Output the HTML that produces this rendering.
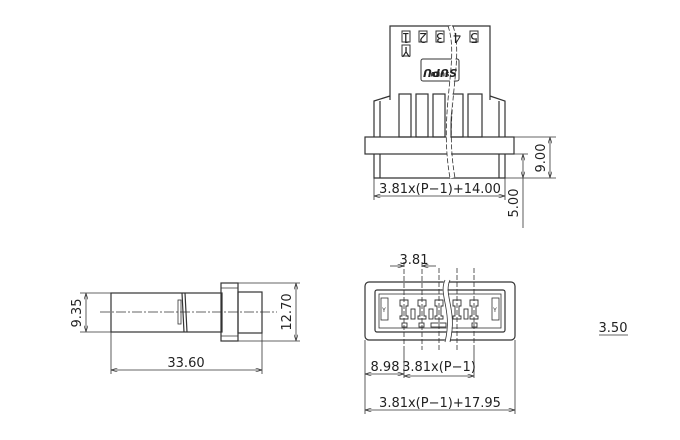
<!DOCTYPE html>
<html><head><meta charset="utf-8"><style>
html,body{margin:0;padding:0;background:#fff;}
svg{display:block;}
text{font-family:"DejaVu Sans","Liberation Sans",sans-serif;font-size:13px;fill:#222;}
</style></head><body>
<svg width="680" height="440" viewBox="0 0 680 440" xmlns="http://www.w3.org/2000/svg">
<defs>
<marker id="a" viewBox="0 0 10 6" refX="10" refY="3" markerWidth="8" markerHeight="5" orient="auto-start-reverse"><path d="M0,0 L10,3 L0,6" fill="none" stroke="#333" stroke-width="1"/></marker>
</defs>
<g fill="none" stroke="#333" stroke-width="1.2">
<!-- TOP VIEW -->
<path d="M390,100 L390,26 L490,26 L490,100"/>
<path d="M374,137 L374,101 L390,96 M505,137 L505,101 L490,96"/>
<line x1="380" y1="101" x2="380" y2="137"/>
<line x1="499" y1="101" x2="499" y2="137"/>
<rect x="399" y="94" width="12" height="43"/>
<rect x="416" y="94" width="12" height="43"/>
<rect x="433" y="94" width="12" height="43"/>
<rect x="451" y="94" width="12" height="43"/>
<rect x="468" y="94" width="14" height="43"/>
<rect x="365" y="137" width="149" height="17"/>
<path d="M374,154 L374,178 L505,178 L505,154"/>
<line x1="380" y1="154" x2="380" y2="178"/>
<line x1="499" y1="154" x2="499" y2="178"/>
<rect x="402" y="31" width="8" height="11" stroke-width="1"/>
<rect x="419" y="31" width="8" height="11" stroke-width="1"/>
<rect x="436" y="31" width="8" height="11" stroke-width="1"/>
<rect x="470" y="31" width="8" height="11" stroke-width="1"/>
<rect x="402" y="45" width="8" height="11" stroke-width="1"/>
<rect x="421" y="59" width="38" height="22" rx="2" stroke-width="1"/>
<path d="M450,26 C462,60 440,110 452,178" stroke="#fff" stroke-width="4"/>
<path d="M448,26 C460,60 438,110 450,178 M453,26 C465,60 443,110 455,178" stroke-width="0.8" stroke-dasharray="5,2"/>
<!-- dims top -->
<line x1="514" y1="137" x2="556" y2="137" stroke-width="0.8"/>
<line x1="505" y1="178" x2="556" y2="178" stroke-width="0.8"/>
<line x1="505" y1="154" x2="528" y2="154" stroke-width="0.8"/>
<line x1="550" y1="137" x2="550" y2="178" stroke-width="0.8" marker-start="url(#a)" marker-end="url(#a)"/>
<line x1="523" y1="154" x2="523" y2="178" stroke-width="0.8" marker-start="url(#a)" marker-end="url(#a)"/>
<line x1="523" y1="178" x2="523" y2="228" stroke-width="0.8"/>
<line x1="374" y1="178" x2="374" y2="200" stroke-width="0.8"/>
<line x1="505" y1="178" x2="505" y2="200" stroke-width="0.8"/>
<line x1="374" y1="196" x2="505" y2="196" stroke-width="0.8" marker-start="url(#a)" marker-end="url(#a)"/>

<!-- SIDE VIEW -->
<rect x="111" y="293" width="111" height="39"/>
<path d="M182,293 L184,332 M185,293 L187,332"/>
<rect x="178" y="300" width="3" height="24" stroke-width="0.8"/>
<rect x="221" y="283" width="17" height="58"/>
<line x1="221" y1="288" x2="238" y2="288" stroke-width="0.8"/>
<line x1="221" y1="336" x2="238" y2="336" stroke-width="0.8"/>
<rect x="238" y="292" width="24" height="41"/>
<line x1="100" y1="312" x2="277" y2="312" stroke-width="0.7" stroke-dasharray="10,2,2,2"/>
<line x1="80" y1="293" x2="111" y2="293" stroke-width="0.8"/>
<line x1="80" y1="332" x2="111" y2="332" stroke-width="0.8"/>
<line x1="86" y1="293" x2="86" y2="332" stroke-width="0.8" marker-start="url(#a)" marker-end="url(#a)"/>
<line x1="238" y1="283" x2="300" y2="283" stroke-width="0.8"/>
<line x1="238" y1="341" x2="300" y2="341" stroke-width="0.8"/>
<line x1="296" y1="283" x2="296" y2="341" stroke-width="0.8" marker-start="url(#a)" marker-end="url(#a)"/>
<line x1="111" y1="332" x2="111" y2="374" stroke-width="0.8"/>
<line x1="262" y1="333" x2="262" y2="374" stroke-width="0.8"/>
<line x1="111" y1="370" x2="262" y2="370" stroke-width="0.8" marker-start="url(#a)" marker-end="url(#a)"/>

<!-- FRONT VIEW -->
<rect x="365" y="282" width="150" height="58" rx="4"/>
<rect x="375" y="290" width="130" height="42" rx="2"/>
<rect x="379" y="294" width="122" height="34" stroke-width="0.8"/>
<rect x="381" y="298" width="7" height="22" stroke-width="0.8"/>
<rect x="492" y="298" width="7" height="22" stroke-width="0.8"/>
<g stroke-width="0.9">
<path d="M400,300 h8 v6 h-2 v10 h2 v3 h-8 v-3 h2 v-10 h-2z"/>
<path d="M418,300 h8 v6 h-2 v10 h2 v3 h-8 v-3 h2 v-10 h-2z"/>
<path d="M435,300 h8 v6 h-2 v10 h2 v3 h-8 v-3 h2 v-10 h-2z"/>
<path d="M453,300 h8 v6 h-2 v10 h2 v3 h-8 v-3 h2 v-10 h-2z"/>
<path d="M470,300 h8 v6 h-2 v10 h2 v3 h-8 v-3 h2 v-10 h-2z"/>
<rect x="411" y="309" width="4" height="10"/>
<rect x="429" y="309" width="4" height="10"/>
<rect x="464" y="309" width="4" height="10"/>
<rect x="402" y="323" width="5" height="4"/>
<rect x="419" y="323" width="5" height="4"/>
<rect x="431" y="323" width="15" height="4"/>
<rect x="472" y="323" width="5" height="4"/>
</g>
<path d="M447,280 C440,295 455,310 447,342" stroke="#fff" stroke-width="5"/>
<path d="M445,280 C438,295 453,310 445,342 M450,280 C443,295 458,310 450,342" stroke-width="0.8"/>
<g stroke-width="0.8" stroke-dasharray="5,2">
<line x1="404" y1="262" x2="404" y2="350"/>
<line x1="422" y1="262" x2="422" y2="350"/>
<line x1="439" y1="268" x2="439" y2="350"/>
<line x1="457" y1="268" x2="457" y2="350"/>
<line x1="474" y1="268" x2="474" y2="350"/>
</g>
<line x1="390" y1="266" x2="404" y2="266" stroke-width="0.8" marker-end="url(#a)"/>
<line x1="436" y1="266" x2="422" y2="266" stroke-width="0.8" marker-end="url(#a)"/>
<line x1="365" y1="340" x2="365" y2="414" stroke-width="0.8"/>
<line x1="515" y1="340" x2="515" y2="414" stroke-width="0.8"/>
<line x1="404" y1="350" x2="404" y2="378" stroke-width="0.8"/>
<line x1="474" y1="350" x2="474" y2="378" stroke-width="0.8"/>
<line x1="365" y1="374" x2="404" y2="374" stroke-width="0.8" marker-start="url(#a)" marker-end="url(#a)"/>
<line x1="404" y1="376" x2="474" y2="376" stroke-width="0.8" marker-start="url(#a)" marker-end="url(#a)"/>
<line x1="365" y1="410" x2="515" y2="410" stroke-width="0.8" marker-start="url(#a)" marker-end="url(#a)"/>
<line x1="599" y1="335" x2="628" y2="335" stroke-width="0.8"/>
</g>
<g>
<text x="440" y="193" text-anchor="middle">3.81x(P−1)+14.00</text>
<text transform="translate(545,158) rotate(-90)" text-anchor="middle">9.00</text>
<text transform="translate(518,203) rotate(-90)" text-anchor="middle">5.00</text>
<text transform="translate(81,313) rotate(-90)" text-anchor="middle">9.35</text>
<text transform="translate(291,312) rotate(-90)" text-anchor="middle">12.70</text>
<text x="186" y="367" text-anchor="middle">33.60</text>
<text x="414" y="264" text-anchor="middle">3.81</text>
<text x="385" y="371" text-anchor="middle">8.98</text>
<text x="439" y="371" text-anchor="middle">3.81x(P−1)</text>
<text x="440" y="407" text-anchor="middle">3.81x(P−1)+17.95</text>
<text x="613" y="332" text-anchor="middle">3.50</text>
<g style="font-size:8px">
<text x="406" y="40" text-anchor="middle" transform="rotate(180 406 36.5)">1</text>
<text x="423" y="40" text-anchor="middle" transform="rotate(180 423 36.5)">2</text>
<text x="440" y="40" text-anchor="middle" transform="rotate(180 440 36.5)">3</text>
<text x="457" y="40" text-anchor="middle" transform="rotate(180 457 36.5)">4</text>
<text x="474" y="40" text-anchor="middle" transform="rotate(180 474 36.5)">5</text>
<text x="406" y="54" text-anchor="middle" transform="rotate(180 406 50.5)">Y</text>
<text x="440" y="68" text-anchor="middle" transform="rotate(180 440 70)" style="font-size:6px;font-weight:bold">SURU</text>
<text x="440" y="77" text-anchor="middle" transform="rotate(180 440 73)" style="font-size:11px;font-style:italic;font-weight:bold">SUPU</text>
<text x="384" y="312" text-anchor="middle" style="font-size:6px">Y</text>
<text x="495" y="312" text-anchor="middle" style="font-size:6px">Y</text>
</g>
</g>
</svg>
</body></html>
